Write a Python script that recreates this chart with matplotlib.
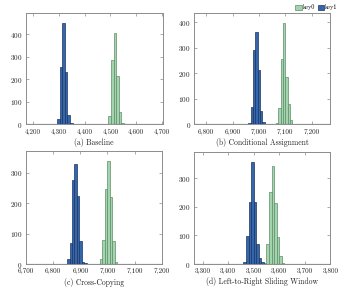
import matplotlib
matplotlib.use("Agg")
import matplotlib.pyplot as plt
from matplotlib.patches import Patch
from matplotlib.ticker import FuncFormatter, MultipleLocator

# ---- data (bin centers, counts) ----
a_key1_x = [4298, 4308, 4318, 4328, 4338, 4348]
a_key1_y = [25, 255, 450, 230, 40, 5]
a_key0_x = [4497, 4507, 4517, 4527, 4537, 4547]
a_key0_y = [35, 285, 405, 215, 55, 5]

b_key1_x = [6964, 6973, 6982, 6991, 7000, 7009, 7018]
b_key1_y = [5, 68, 290, 362, 212, 52, 10]
b_key0_x = [7069, 7078, 7087, 7096, 7105, 7114, 7123, 7132]
b_key0_y = [5, 65, 258, 398, 185, 78, 15, 3]

c_key1_x = [6856, 6865, 6874, 6883, 6892, 6901, 6910, 6919]
c_key1_y = [18, 70, 275, 330, 225, 75, 8, 3]
c_key0_x = [6977, 6986, 6995, 7004, 7013, 7022, 7031]
c_key0_y = [15, 80, 248, 338, 222, 77, 5]

d_key1_x = [3465, 3475, 3485, 3495, 3505, 3515, 3525, 3535]
d_key1_y = [8, 98, 218, 357, 218, 70, 20, 7]
d_key0_x = [3545, 3555, 3565, 3575, 3585, 3595, 3605, 3615]
d_key0_y = [5, 70, 250, 342, 213, 93, 27, 3]

captions = ["(a) Baseline", "(b) Conditional Assignment",
            "(c) Cross-Copying", "(d) Left-to-Right Sliding Window"]
xlims = [(4172, 4702), (6755, 7270), (6700, 7200), (3265, 3800)]
xticks = [[4200, 4300, 4400, 4500, 4600, 4700],
          [6800, 6900, 7000, 7100, 7200],
          [6700, 6800, 6900, 7000, 7100, 7200],
          [3300, 3400, 3500, 3600, 3700, 3800]]
bin_w = [10, 9, 9, 10]
series = [(a_key0_x, a_key0_y, a_key1_x, a_key1_y),
          (b_key0_x, b_key0_y, b_key1_x, b_key1_y),
          (c_key0_x, c_key0_y, c_key1_x, c_key1_y),
          (d_key0_x, d_key0_y, d_key1_x, d_key1_y)]
labels = ["key0", "key1"]

# ---- style ----
plt.rcParams['font.family'] = ['cmr10', 'DejaVu Serif']
plt.rcParams['axes.formatter.use_mathtext'] = True
W, H = 342, 289
fig = plt.figure(figsize=(W / 100, H / 100), dpi=100)

green_fill, green_edge = "#a3d4ae", "#5e8e69"
blue_fill, blue_edge = "#3466ab", "#1b3461"
frame_col = "#8c8c8c"

# axes boxes in pixels: left, right, top, bottom
boxes = [(26, 162.5, 12.7, 124.3), (194.3, 330, 12.7, 124.3),
         (26, 161.7, 151, 264), (193.7, 330.3, 151.5, 264)]

fmt = FuncFormatter(lambda v, p: f"{int(round(v)):,}")

for i, (l, r, t, b) in enumerate(boxes):
    ax = fig.add_axes([l / W, (H - b) / H, (r - l) / W, (b - t) / H])
    x0, y0, x1, y1 = series[i]
    ax.bar(x0, y0, width=bin_w[i], color=green_fill, edgecolor=green_edge,
           linewidth=0.5, label=labels[0], zorder=2)
    ax.bar(x1, y1, width=bin_w[i], color=blue_fill, edgecolor=blue_edge,
           linewidth=0.5, label=labels[1], zorder=2)
    ax.axhline(0, color="#333333", linewidth=0.8, zorder=3)
    ax.set_xlim(*xlims[i])
    ymax = max(max(y0), max(y1)) * 1.1
    ax.set_ylim(0, ymax)
    ax.set_xticks(xticks[i])
    ax.xaxis.set_major_formatter(fmt)
    ax.yaxis.set_major_locator(MultipleLocator(100))
    ax.tick_params(axis='both', which='both', direction='in', length=2.5,
                   width=0.5, color=frame_col, labelsize=5.2,
                   top=True, right=True, labelcolor="#222222")
    ax.tick_params(axis='x', pad=3)
    ax.tick_params(axis='y', pad=2.5)
    for s in ax.spines.values():
        s.set_color(frame_col)
        s.set_linewidth(0.7)
    ax.text(0.5, -0.12, captions[i], transform=ax.transAxes, ha='center',
            va='top', fontsize=5.5, color="#222222")

# legend at top right
handles = [Patch(facecolor=green_fill, edgecolor=green_edge, linewidth=0.5),
           Patch(facecolor=blue_fill, edgecolor=blue_edge, linewidth=0.5)]
fig.legend(handles, labels, loc='upper right', bbox_to_anchor=(1.0, 1.0),
           ncol=2, fontsize=4.5, frameon=False, handlelength=1.0,
           handleheight=0.8, handletextpad=0.2, columnspacing=0.4,
           borderpad=0.2)

fig.savefig("out.png", dpi=100)
